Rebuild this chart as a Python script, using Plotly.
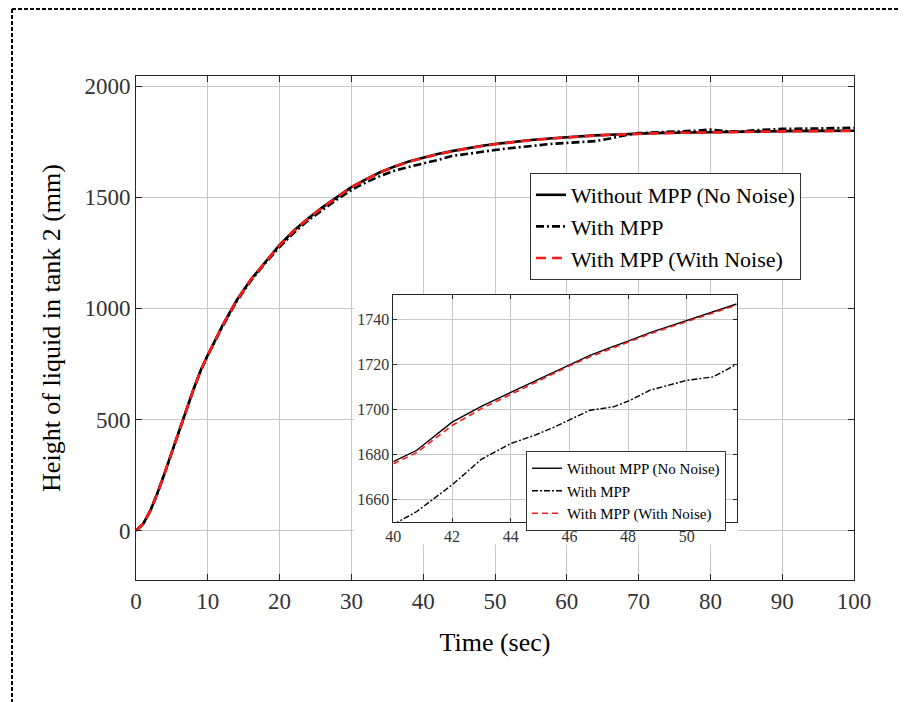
import plotly.graph_objects as go

# ---------------- data ----------------
time_main = [0, 1, 2, 3, 4, 5, 6, 7, 8, 9, 10, 12, 14, 16, 18, 20, 22, 24, 26, 28, 30,
             32, 34, 36, 38, 40, 42, 44, 46, 48, 50, 52, 55, 58, 60, 62, 64, 66, 68, 70,
             72, 75, 78, 80, 82, 84, 86, 88, 90, 95, 100]
no_mpp = [0, 30, 90, 170, 260, 355, 450, 545, 635, 720, 790, 920, 1035, 1130, 1210, 1285,
          1350, 1405, 1455, 1500, 1545, 1580, 1612, 1638, 1660, 1677, 1694, 1707, 1720, 1730,
          1739, 1747, 1757, 1765, 1770, 1774, 1778, 1781, 1784, 1786, 1788, 1790, 1792, 1793,
          1794, 1795, 1796, 1797, 1797, 1798, 1799]
with_mpp = [0, 30, 90, 170, 260, 355, 450, 545, 635, 718, 788, 915, 1030, 1124, 1203, 1276,
            1340, 1396, 1445, 1490, 1532, 1566, 1595, 1619, 1636, 1650, 1667, 1685, 1695, 1704,
            1712, 1720, 1731, 1740, 1744, 1748, 1752, 1764, 1778, 1788, 1792, 1795, 1799, 1804,
            1797, 1794, 1801, 1805, 1807, 1809, 1812]
mpp_noise = [0, 30, 89, 169, 259, 354, 449, 544, 634, 719, 789, 919, 1034, 1129, 1209, 1284,
             1349, 1404, 1454, 1499, 1544, 1579, 1611, 1637, 1659, 1676, 1693, 1706, 1719, 1729,
             1738, 1746, 1756, 1764, 1769, 1773, 1777, 1780, 1783, 1785, 1787, 1789, 1791, 1792,
             1793, 1794, 1795, 1796, 1796, 1797, 1798]

time_zoom = [40, 40.8, 42, 43, 44, 44.85, 45.5, 46, 46.7, 47.5, 48, 48.75, 50, 50.9, 51.7]
no_mpp_zoom = [1677, 1682, 1694.5, 1701.5, 1707.7, 1713, 1717, 1720.2, 1724.2, 1728.2,
               1730.5, 1734.3, 1739.7, 1743.5, 1747]
with_mpp_zoom = [1649, 1654.8, 1666.6, 1678, 1685, 1688.8, 1692.4, 1695.4, 1699.8, 1701.3,
                 1703.8, 1708.7, 1713.1, 1714.6, 1720.2]
mpp_noise_zoom = [1676, 1681, 1693, 1700.5, 1706.8, 1712.2, 1716.2, 1719.5, 1723.5, 1727.6,
                  1730, 1733.8, 1739.2, 1743, 1746.5]

names = ["Without MPP (No Noise)", "With MPP", "With MPP (With Noise)"]
main_ticks_x = list(range(0, 101, 10))
main_ticks_y = [0, 500, 1000, 1500, 2000]
zoom_ticks_x = [40, 42, 44, 46, 48, 50]
zoom_ticks_y = [1660, 1680, 1700, 1720, 1740]

SERIF = "Liberation Serif, Times New Roman, serif"
AX = "#262626"
GRID = "#c8c8c8"

fig = go.Figure()

# main traces
fig.add_trace(go.Scatter(x=time_main, y=no_mpp, mode="lines", name=names[0],
                         line=dict(color="black", width=2.6), legend="legend",
                         xaxis="x", yaxis="y"))
fig.add_trace(go.Scatter(x=time_main, y=with_mpp, mode="lines", name=names[1],
                         line=dict(color="black", width=2.6, dash="8px,3px,2px,3px"),
                         legend="legend", xaxis="x", yaxis="y"))
fig.add_trace(go.Scatter(x=time_main, y=mpp_noise, mode="lines", name=names[2],
                         line=dict(color="#ff1a1a", width=2.6, dash="10px,6px"),
                         legend="legend", xaxis="x", yaxis="y"))

# inset traces
fig.add_trace(go.Scatter(x=time_zoom, y=no_mpp_zoom, mode="lines", name=names[0],
                         line=dict(color="black", width=1.4), legend="legend2",
                         xaxis="x2", yaxis="y2"))
fig.add_trace(go.Scatter(x=time_zoom, y=with_mpp_zoom, mode="lines", name=names[1],
                         line=dict(color="black", width=1.4, dash="6px,2px,2px,2px"),
                         legend="legend2", xaxis="x2", yaxis="y2"))
fig.add_trace(go.Scatter(x=time_zoom, y=mpp_noise_zoom, mode="lines", name=names[2],
                         line=dict(color="#ff1a1a", width=1.6, dash="6px,4px"),
                         legend="legend2", xaxis="x2", yaxis="y2"))

main_axis = dict(showline=True, linecolor=AX, linewidth=1, mirror="ticks",
                 ticks="inside", ticklen=6, tickcolor=AX, showgrid=True,
                 gridcolor=GRID, gridwidth=1, zeroline=False,
                 tickfont=dict(family=SERIF, size=23, color="#333333"))
zoom_axis = dict(showline=True, linecolor=AX, linewidth=1, mirror="ticks",
                 ticks="inside", ticklen=4, tickcolor=AX, showgrid=True,
                 gridcolor=GRID, gridwidth=1, zeroline=False,
                 tickfont=dict(family=SERIF, size=16, color="#333333"))

# page body has an 8px margin: the figure is 900x694 so the plot area lands at 136..854 x 76..580
fig.update_layout(
    width=900, height=694,
    margin=dict(l=128, r=54, t=68, b=122),
    paper_bgcolor="white", plot_bgcolor="white",
    font=dict(family=SERIF, color="black"),
    xaxis=dict(main_axis, domain=[0, 1], range=[0, 100], tickvals=main_ticks_x,
               title=dict(text="Time (sec)", font=dict(family=SERIF, size=26, color="black"),
                          standoff=20)),
    yaxis=dict(main_axis, domain=[0, 1], range=[-222, 2045], tickvals=main_ticks_y,
               title=dict(text="Height of liquid in tank 2 (mm)",
                          font=dict(family=SERIF, size=26, color="black"), standoff=16)),
    xaxis2=dict(zoom_axis, domain=[0.3584, 0.8366], range=[40, 51.7], tickvals=zoom_ticks_x,
                anchor="y2"),
    yaxis2=dict(zoom_axis, domain=[0.1145, 0.5655], range=[1650, 1751], tickvals=zoom_ticks_y,
                anchor="x2"),
    legend=dict(x=0.5487, y=0.8075, xanchor="left", yanchor="top",
                bgcolor="white", bordercolor="#333333", borderwidth=1,
                font=dict(family=SERIF, size=22, color="black"),
                tracegroupgap=0),
    legend2=dict(x=0.5432, y=0.256, xanchor="left", yanchor="top",
                 bgcolor="white", bordercolor="#333333", borderwidth=1,
                 font=dict(family=SERIF, size=15, color="black"),
                 tracegroupgap=0),
    showlegend=True,
)

# white panel behind the inset (hides the main grid)
fig.add_shape(type="rect", xref="x", yref="y", x0=30.3, x1=83.8, y0=-62, y1=1064,
              fillcolor="white", line=dict(width=0), layer="between")

# dashed page border (left and top), in plot-area paper units
bx = (12 - 136) / 718
by = (580 - 9) / 504
fig.add_shape(type="line", xref="paper", yref="paper",
              x0=bx, x1=bx, y0=by, y1=(580 - 702) / 504,
              line=dict(color="black", width=2, dash="4px,2px"))
fig.add_shape(type="line", xref="paper", yref="paper",
              x0=bx, x1=(908 - 136) / 718, y0=by, y1=by,
              line=dict(color="black", width=2, dash="4px,2px"))

fig.write_html("out.html")
